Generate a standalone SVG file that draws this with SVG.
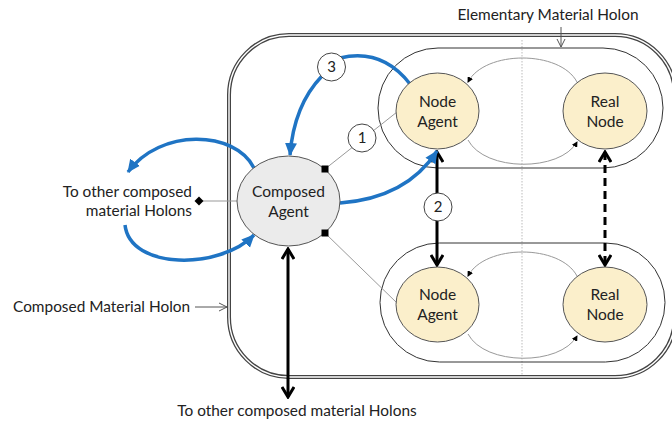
<svg xmlns="http://www.w3.org/2000/svg" width="672" height="423" viewBox="0 0 672 423">
<style>
text{font-family:Lato,"Liberation Sans",sans-serif;fill:#222}
.lbl{font-size:15.4px}
.nt{font-size:15.5px;text-anchor:middle}
.num{font-size:15px;text-anchor:middle}
.pill{fill:none;stroke:#333;stroke-width:1}
.na{fill:#FBEFCB;stroke:#555;stroke-width:1}
.ca{fill:#EBEBEB;stroke:#555;stroke-width:1}
.nc{fill:#fff;stroke:#444;stroke-width:1}
.blue{fill:none;stroke:#1F74C4;stroke-width:3.5}
.blk{fill:none;stroke:#000;stroke-width:3}
.gray{fill:none;stroke:#999;stroke-width:1}
.thin{fill:none;stroke:#555;stroke-width:1}
</style>
<defs>
<marker id="bh" markerUnits="userSpaceOnUse" markerWidth="14" markerHeight="14" viewBox="0 0 14 14" refX="12" refY="7" orient="auto"><path d="M0,1 L13,7 L0,13 Z" fill="#1F74C4"/></marker>
<marker id="vh" markerUnits="userSpaceOnUse" markerWidth="14" markerHeight="14" viewBox="0 0 14 14" refX="12" refY="7" orient="auto-start-reverse"><path d="M2,1 L12,7 L2,13" fill="none" stroke="#000" stroke-width="3"/></marker>
<marker id="sh" markerUnits="userSpaceOnUse" markerWidth="6" markerHeight="6" viewBox="0 0 6 6" refX="5" refY="3" orient="auto"><path d="M0,0 L6,3 L0,6 Z" fill="#000"/></marker>
<marker id="oh" markerUnits="userSpaceOnUse" markerWidth="10" markerHeight="10" viewBox="0 0 10 10" refX="9" refY="5" orient="auto"><path d="M1,1 L9,5 L1,9" fill="none" stroke="#555" stroke-width="1"/></marker>
</defs>

<g id="composed-holon">
<rect x="229" y="35" width="446" height="342" rx="60" fill="none" stroke="#444" stroke-width="4"/>
<rect x="229" y="35" width="446" height="342" rx="60" fill="none" stroke="#fff" stroke-width="1.4"/>
</g>
<line x1="522" y1="40" x2="522" y2="376" stroke="#bbb" stroke-width="1" stroke-dasharray="1.5,1.5"/>

<g id="elementary-holon-top"><rect class="pill" x="378" y="48" width="285" height="120" rx="60"/></g>
<g id="elementary-holon-bottom"><rect class="pill" x="380" y="243" width="285" height="119" rx="59.5"/></g>

<g id="connectors">
<path class="gray" d="M577,82 C560,50 485,50 468,82" marker-end="url(#sh)"/>
<path class="gray" d="M468,140 C485,172 560,172 577,142" marker-end="url(#sh)"/>
<path class="gray" d="M577,276 C560,244 485,244 468,276" marker-end="url(#sh)"/>
<path class="gray" d="M468,334 C485,366 560,366 577,336" marker-end="url(#sh)"/>
<line x1="325" y1="169" x2="397" y2="112" stroke="#999" stroke-width="1"/>
<line x1="325" y1="233" x2="397" y2="303" stroke="#999" stroke-width="1"/>
<line x1="199" y1="201" x2="237" y2="201" stroke="#999" stroke-width="1"/>
<path d="M199,196.5 L203.5,201 L199,205.5 L194.5,201 Z" fill="#000"/>
<line class="blk" x1="437" y1="152" x2="437" y2="265" marker-start="url(#vh)" marker-end="url(#vh)"/>
<line class="blk" x1="605" y1="152" x2="605" y2="265" stroke-dasharray="8,5" marker-start="url(#vh)" marker-end="url(#vh)"/>
<line class="blk" x1="288" y1="249" x2="288" y2="397" marker-start="url(#vh)" marker-end="url(#vh)"/>
<path class="blue" d="M410,84 Q382,48 340,58"/>
<path class="blue" d="M322,76 Q294,105 290,155" marker-end="url(#bh)"/>
<path class="blue" d="M340,203 C380,200 415,185 437,151" marker-end="url(#bh)"/>
<path class="blue" d="M254,168 C235,130 160,128 128,172" marker-end="url(#bh)"/>
<path class="blue" d="M125,225 C130,270 220,270 254,235" marker-end="url(#bh)"/>
<line class="thin" x1="195" y1="307" x2="227" y2="307" marker-end="url(#oh)"/>
<line class="thin" x1="561" y1="27" x2="561" y2="47" marker-end="url(#oh)"/>
</g>

<g id="node-agent-top"><ellipse class="na" cx="437.5" cy="111" rx="41.5" ry="38"/><text class="nt" x="437.5" y="107">Node</text><text class="nt" x="437.5" y="127">Agent</text></g>
<g id="real-node-top"><ellipse class="na" cx="605" cy="111" rx="42" ry="38"/><text class="nt" x="605" y="107">Real</text><text class="nt" x="605" y="127">Node</text></g>
<g id="node-agent-bottom"><ellipse class="na" cx="437.5" cy="304.5" rx="41.5" ry="37.5"/><text class="nt" x="437.5" y="300">Node</text><text class="nt" x="437.5" y="320">Agent</text></g>
<g id="real-node-bottom"><ellipse class="na" cx="605" cy="304.5" rx="42" ry="37.5"/><text class="nt" x="605" y="300">Real</text><text class="nt" x="605" y="320">Node</text></g>
<g id="composed-agent"><ellipse class="ca" cx="288.5" cy="201" rx="51.5" ry="45"/><text class="nt" x="288.5" y="197">Composed</text><text class="nt" x="288.5" y="217">Agent</text>
<rect x="321.5" y="165.5" width="7" height="7" fill="#000"/>
<rect x="321.5" y="229.5" width="7" height="7" fill="#000"/></g>

<g id="label-1"><circle class="nc" cx="362" cy="138" r="14"/><text class="num" x="362" y="143">1</text></g>
<g id="label-2"><circle class="nc" cx="438" cy="207" r="14"/><text class="num" x="438" y="212">2</text></g>
<g id="label-3"><circle class="nc" cx="331.5" cy="67" r="14"/><text class="num" x="331.5" y="72">3</text></g>

<g id="labels">
<text class="lbl" x="548" y="20" text-anchor="middle">Elementary Material Holon</text>
<text class="lbl" x="192" y="197" text-anchor="end">To other composed</text>
<text class="lbl" x="192" y="216" text-anchor="end">material Holons</text>
<text class="lbl" x="13" y="312">Composed Material Holon</text>
<text class="lbl" x="297" y="416" text-anchor="middle">To other composed material Holons</text>
</g>
</svg>
